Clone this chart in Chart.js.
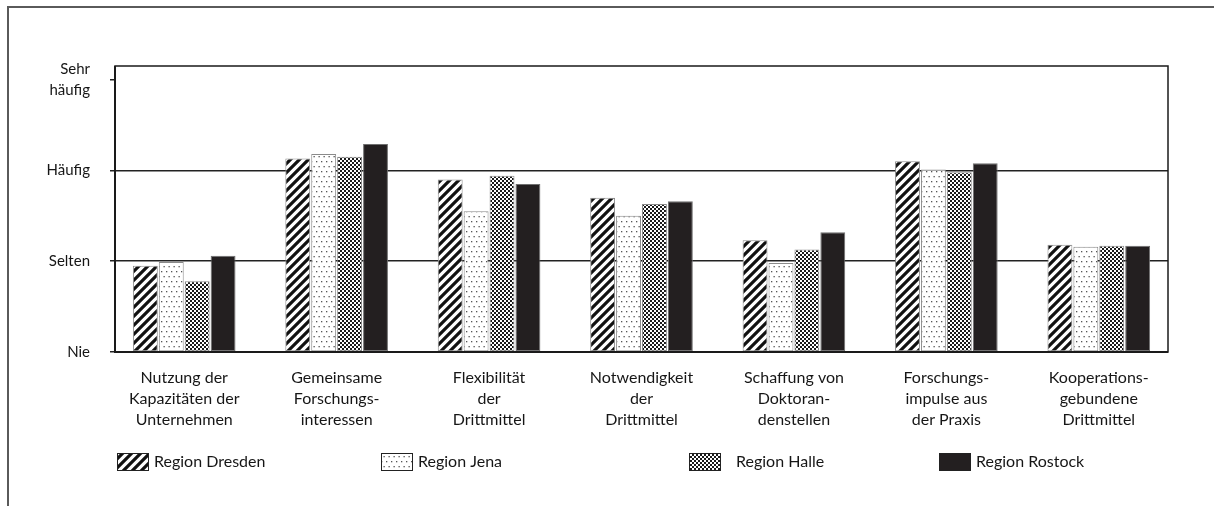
<!DOCTYPE html>
<html>
<head>
<meta charset="utf-8">
<script src="https://cdn.jsdelivr.net/npm/chart.js@4"></script>
<style>
  html, body { margin: 0; padding: 0; background: #fff; }
  #wrap { position: relative; width: 1214px; height: 506px; }
</style>
</head>
<body>
<div id="wrap"><canvas id="c" width="1214" height="506"></canvas></div>
<script>
// ---- data ----
const categories = [
  ['Nutzung der', 'Kapazitäten der', 'Unternehmen'],
  ['Gemeinsame', 'Forschungs-', 'interessen'],
  ['Flexibilität', 'der', 'Drittmittel'],
  ['Notwendigkeit', 'der', 'Drittmittel'],
  ['Schaffung von', 'Doktoran-', 'denstellen'],
  ['Forschungs-', 'impulse aus', 'der Praxis'],
  ['Kooperations-', 'gebundene', 'Drittmittel']
];
const seriesNames = ['Region Dresden', 'Region Jena', 'Region Halle', 'Region Rostock'];
const dresden = [0.95, 2.13, 1.90, 1.70, 1.23, 2.10, 1.18];
const jena    = [0.99, 2.18, 1.55, 1.50, 0.98, 2.01, 1.16];
const halle   = [0.78, 2.15, 1.94, 1.63, 1.13, 1.98, 1.17];
const rostock = [1.06, 2.29, 1.85, 1.66, 1.32, 2.08, 1.17];
const yTickValues = [0, 1, 2, 3];
const yTickLabels = ['Nie', 'Selten', 'Häufig', ['Sehr', 'häufig']];

// ---- patterns ----
function makeTile(w, h, draw) {
  const t = document.createElement('canvas');
  t.width = w; t.height = h;
  const g = t.getContext('2d');
  draw(g, w, h);
  return document.getElementById('c').getContext('2d').createPattern(t, 'repeat');
}
const patStripes = makeTile(9, 9, (g, s) => {
  g.fillStyle = '#fff'; g.fillRect(0, 0, s, s);
  g.strokeStyle = '#111'; g.lineWidth = 3.2; g.lineCap = 'square';
  g.beginPath();
  g.moveTo(0, s); g.lineTo(s, 0);
  g.moveTo(-s / 2, s / 2); g.lineTo(s / 2, -s / 2);
  g.moveTo(s / 2, s + s / 2); g.lineTo(s + s / 2, s / 2);
  g.stroke();
});
const patDots = makeTile(10, 10, (g) => {
  g.fillStyle = '#fff'; g.fillRect(0, 0, 10, 10);
  g.fillStyle = '#555';
  g.fillRect(1, 1, 1.3, 1.3);
  g.fillRect(6, 1, 1.3, 1.3);
  g.fillRect(3.5, 6, 1.3, 1.3);
  g.fillRect(8.5, 6, 1.3, 1.3);
});
const patChecker = makeTile(4, 4, (g) => {
  g.fillStyle = '#1a1a1a'; g.fillRect(0, 0, 4, 4);
  g.fillStyle = '#fff';
  g.fillRect(0, 0, 2, 2);
  g.fillRect(2, 2, 2, 2);
});
const fills = [patStripes, patDots, patChecker, '#231f20'];
const values = [dresden, jena, halle, rostock];

const FONT = 'Lato, "Open Sans", sans-serif';
const TEXT = '#161616';
const legendX = [117, 381, 689, 939];

const framePlugin = {
  id: 'frame',
  afterLayout(chart) {
    // spread the category axis slightly beyond the plot frame, as in the original
    const s = chart.scales.x;
    s.left -= 7; s.right += 7; s.width += 14;
    s.configure();
  },
  beforeDraw(chart) {
    const ctx = chart.ctx;
    ctx.save();
    ctx.strokeStyle = '#5a5a5a';
    ctx.lineWidth = 2;
    ctx.beginPath();
    ctx.moveTo(8, 506); ctx.lineTo(8, 7); ctx.lineTo(1214, 7);
    ctx.stroke();
    ctx.restore();
  },
  afterDatasetsDraw(chart) {
    const { ctx, chartArea: a } = chart;
    ctx.save();
    ctx.strokeStyle = '#1a1a1a';
    ctx.lineWidth = 1.5;
    ctx.strokeRect(a.left, a.top, a.right - a.left, a.bottom - a.top);
    ctx.lineWidth = 2;
    ctx.beginPath();
    ctx.moveTo(a.left, a.top); ctx.lineTo(a.left, a.bottom); ctx.lineTo(a.right, a.bottom);
    ctx.stroke();
    ctx.restore();
  },
  afterDraw(chart) {
    const ctx = chart.ctx;
    ctx.save();
    ctx.font = '16px ' + FONT;
    ctx.textBaseline = 'middle';
    chart.data.datasets.forEach((ds, i) => {
      const x = legendX[i], y = 453;
      ctx.fillStyle = ds.backgroundColor;
      ctx.fillRect(x, y, 32, 18);
      ctx.strokeStyle = '#222';
      ctx.lineWidth = 1;
      ctx.strokeRect(x + 0.5, y + 0.5, 31, 17);
      ctx.fillStyle = TEXT;
      ctx.fillText(ds.label, x + (i === 2 ? 47 : 37), y + 9);
    });
    ctx.restore();
  }
};

new Chart(document.getElementById('c'), {
  type: 'bar',
  data: {
    labels: categories,
    datasets: seriesNames.map((name, i) => ({
      label: name,
      data: values[i],
      backgroundColor: fills[i],
      borderColor: i === 3 ? '#6f6f6f' : '#8a8a8a',
      borderWidth: 1,
      borderSkipped: false,
      categoryPercentage: 0.68,
      barPercentage: 0.96
    }))
  },
  options: {
    responsive: false,
    animation: false,
    layout: { padding: { left: 0, top: 66, right: 46, bottom: 0 } },
    plugins: { legend: { display: false }, tooltip: { enabled: false } },
    scales: {
      x: {
        grid: { display: false },
        border: { display: false },
        ticks: {
          color: TEXT, maxRotation: 0, autoSkip: false, padding: 7,
          font: { family: FONT, size: 16, lineHeight: 1.33 }
        },
        afterFit(s) { s.height = 154; }
      },
      y: {
        min: 0, max: 3.15,
        afterBuildTicks(s) { s.ticks = yTickValues.map(v => ({ value: v })); },
        grid: {
          color: (c) => (c.tick && (c.tick.value === 1 || c.tick.value === 2)) ? '#222' : 'rgba(0,0,0,0)',
          tickColor: '#222', tickLength: 5, lineWidth: 1.5, drawTicks: true
        },
        border: { display: false },
        ticks: {
          color: TEXT, padding: 20,
          font: { family: FONT, size: 15, lineHeight: 1.4 },
          callback: (v) => yTickLabels[yTickValues.indexOf(v)]
        },
        afterFit(s) { s.width = 115; }
      }
    }
  },
  plugins: [framePlugin]
});
</script>
</body>
</html>
